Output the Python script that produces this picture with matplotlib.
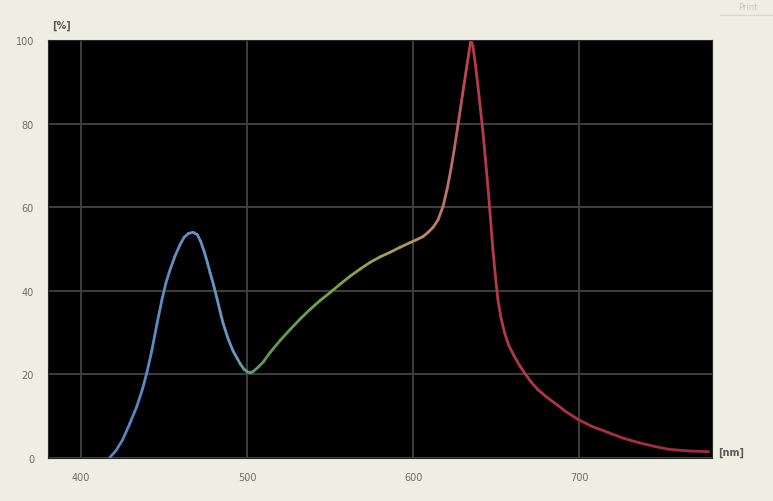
import numpy as np
import matplotlib
matplotlib.use("Agg")
import matplotlib.pyplot as plt
from matplotlib.collections import LineCollection
from matplotlib.colors import LinearSegmentedColormap

# values
wavelength = [417, 421, 425, 429, 433.5, 437, 439.6, 442.5, 445.6, 448.6, 451, 453.5,
              456.5, 459.5, 462, 464.5, 467.4, 470, 472, 474, 476, 477.6, 479.8, 481.9,
              483.7, 485.5, 488.5, 491.5, 494, 496, 498, 500, 502, 503.6, 506.5, 509.7,
              513.9, 520, 526, 532, 538, 544, 550, 556, 562, 568, 574, 580, 586, 592,
              598.5, 603, 606, 609, 612, 615, 618, 620.5, 622.7, 625, 626.9, 628.8,
              630.5, 632, 633.5, 634.7, 636, 637.5, 639, 640.5, 642, 643.5, 645, 646.5,
              648, 649.5, 651, 652.9, 655, 657.5, 660.7, 664, 667.5, 671, 675, 680,
              685, 692, 699.4, 708, 717.5, 726, 735.6, 745, 753.8, 765, 778]
intensity = [0, 1.8, 4.4, 8, 12.3, 16.6, 20.5, 25.6, 32, 37.8, 41.8, 45, 48.3, 51,
             52.8, 53.7, 54, 53.4, 51.8, 49.5, 46.8, 44.4, 41.3, 38, 35, 32.2, 28.5,
             25.6, 23.8, 22.4, 21.3, 20.6, 20.4, 20.7, 21.7, 23, 25.3, 28.2, 30.8, 33.3,
             35.6, 37.7, 39.6, 41.6, 43.5, 45.2, 46.8, 48.1, 49.2, 50.4, 51.6, 52.4,
             53, 54, 55.2, 57, 60.2, 64.5, 69, 74.5, 79.4, 84.5, 89, 93, 96.8, 100,
             98.5, 94, 89, 83.5, 78, 71.5, 65, 57.5, 50, 43.5, 38, 33.5, 30, 27,
             24.5, 22.2, 20.1, 18.2, 16.4, 14.7, 13.2, 11.1, 9.2, 7.5, 6.1, 4.8, 3.7,
             2.8, 2.1, 1.7, 1.5]

x_ticks = [400, 500, 600, 700]
y_ticks = [0, 20, 40, 60, 80, 100]

bg = "#efeee3"
fig = plt.figure(figsize=(7.73, 5.02), dpi=100, facecolor=bg)
ax = fig.add_axes([48 / 773, 1 - 459 / 502, 664 / 773, 418 / 502])
ax.set_facecolor("black")

ax.set_xlim(380, 780)
ax.set_ylim(0, 100)
ax.set_xticks(x_ticks)
ax.set_yticks(y_ticks)
ax.set_xticklabels([str(v) for v in x_ticks])
ax.set_yticklabels([str(v) for v in y_ticks])
ax.grid(True, color="#3f3f3b", linewidth=1.4)
ax.tick_params(colors="#6e6e66", labelsize=7, length=0, pad=10)
for s in ax.spines.values():
    s.set_color("#2a2a2a")

# spectrum line, coloured by wavelength
cmap = LinearSegmentedColormap.from_list(
    "spec",
    [(0.0, "#5585c0"), (0.2, "#6a98c4"), (0.25, "#5e9a4e"), (0.38, "#7aa445"),
     (0.46, "#a8a050"), (0.52, "#b88a66"), (0.56, "#c0706a"), (0.6, "#b83a48"),
     (1.0, "#a02a38")])
pts = np.column_stack([wavelength, intensity]).reshape(-1, 1, 2)
segs = np.concatenate([pts[:-1], pts[1:]], axis=1)
mid = (np.array(wavelength[:-1]) + np.array(wavelength[1:])) / 2
lc = LineCollection(segs, colors=cmap((mid - 420) / 360), linewidth=2.0,
                    capstyle="round", joinstyle="round")
ax.add_collection(lc)

fig.text(52 / 773, 1 - 26 / 502, "[%]", fontsize=7, color="#5a5a55",
         fontweight="bold", ha="left", va="center")
fig.text(718 / 773, 1 - 453 / 502, "[nm]", fontsize=7, color="#5a5a55",
         fontweight="bold", ha="left", va="center")
fig.text(748 / 773, 1 - 8 / 502, "Print", fontsize=6, color="#c8c8c0",
         ha="center", va="center")
fig.add_artist(plt.Line2D([720 / 773, 1], [1 - 16 / 502, 1 - 16 / 502],
                          color="#d8d8d0", linewidth=1))

fig.savefig("out.png", dpi=100, facecolor=bg)
